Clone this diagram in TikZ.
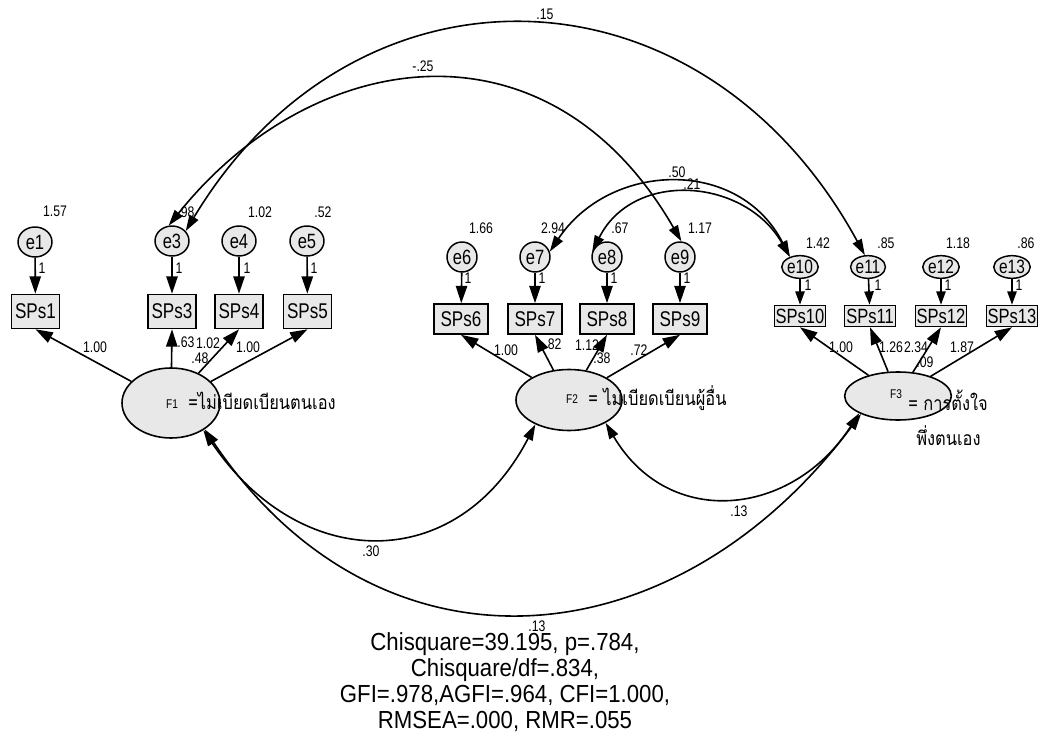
\documentclass[tikz,border=0pt]{standalone}
\usepackage{fontspec}
\setmainfont[FakeStretch=0.8]{Liberation Sans}
\newfontfamily\statfont[FakeStretch=0.9]{Liberation Sans}
\newfontfamily\thaifont[Script=Thai,FakeStretch=0.85]{Loma}
\usetikzlibrary{shapes.geometric,arrows.meta}
\newcommand{\fsz}[1]{\fontsize{#1}{#1}\selectfont}
\tikzset{
  x=0.75pt, y=-0.75pt,
  lat/.style={ellipse, draw, line width=1.2pt, fill=gray!18, inner sep=0pt},
  errA/.style={ellipse, draw, line width=1.1pt, fill=gray!18, inner sep=0pt, minimum width=25.5pt, minimum height=22.5pt, font=\fsz{15.5}},
  errB/.style={ellipse, draw, line width=1.1pt, fill=gray!18, inner sep=0pt, minimum width=22.5pt, minimum height=22.5pt, font=\fsz{15.5}},
  errC/.style={ellipse, draw, line width=1.1pt, fill=gray!18, inner sep=0pt, minimum width=17pt, minimum height=17pt, font=\fsz{14.5}},
  boxA/.style={rectangle, draw, line width=1.2pt, fill=gray!18, inner sep=0pt, minimum width=36pt, minimum height=25.5pt, font=\fsz{16}},
  boxB/.style={rectangle, draw, line width=1.2pt, fill=gray!18, inner sep=0pt, minimum width=40.5pt, minimum height=22.5pt, font=\fsz{16}},
  boxC/.style={rectangle, draw, line width=1.2pt, fill=gray!18, inner sep=0pt, minimum width=38pt, minimum height=15.75pt, font=\fsz{15.5}},
  arr/.style={-{Triangle[length=13pt,width=8.5pt]}, line width=1.2pt},
  arrC/.style={-{Triangle[length=10pt,width=7pt]}, line width=1.2pt},
  cov/.style={{Triangle[length=12pt,width=7.5pt]}-{Triangle[length=12pt,width=7.5pt]}, line width=1.2pt},
  num/.style={font=\fsz{11.5}, inner sep=0pt},
  flab/.style={font=\fsz{9.5}, inner sep=0pt},
  thai/.style={font=\thaifont\fsz{14.5}, inner sep=0pt, anchor=west},
}
\begin{document}
\begin{tikzpicture}
\useasboundingbox (0,0) rectangle (1040,742);
% latent factors
\node[lat, minimum width=73.5pt, minimum height=52.5pt] (F1) at (171,403) {};
\node[lat, minimum width=79.5pt, minimum height=45.75pt] (F2) at (569,400) {};
\node[lat, minimum width=80pt, minimum height=36pt] (F3) at (898,396) {};
% group 1
\node[errA] (e1) at (35,242) {e1};
\node[errA] (e3) at (172,241) {e3};
\node[errA] (e4) at (239,241) {e4};
\node[errA] (e5) at (307,241) {e5};
\node[boxA] (S1) at (35.5,311.5) {SPs1};
\node[boxA] (S3) at (172,311.5) {SPs3};
\node[boxA] (S4) at (239,311.5) {SPs4};
\node[boxA] (S5) at (307.5,311.5) {SPs5};
% group 2
\node[errB] (e6) at (462,257) {e6};
\node[errB] (e7) at (535,257) {e7};
\node[errB] (e8) at (607,257) {e8};
\node[errB] (e9) at (680,257) {e9};
\node[boxB] (S6) at (461,319) {SPs6};
\node[boxB] (S7) at (535,319) {SPs7};
\node[boxB] (S8) at (607,319) {SPs8};
\node[boxB] (S9) at (680,319) {SPs9};
% group 3
\node[errC] (e10) at (800,267) {e10};
\node[errC] (e11) at (868,267) {e11};
\node[errC] (e12) at (941,267) {e12};
\node[errC] (e13) at (1012,267) {e13};
\node[boxC] (S10) at (800,316) {SPs10};
\node[boxC] (S11) at (870,316) {SPs11};
\node[boxC] (S12) at (941,316) {SPs12};
\node[boxC] (S13) at (1012,316) {SPs13};
% error arrows
\foreach \e/\s in {e1/S1,e3/S3,e4/S4,e5/S5,e6/S6,e7/S7,e8/S8,e9/S9}
  \draw[arr] (\e) -- (\s);
\foreach \e/\s in {e10/S10,e11/S11,e12/S12,e13/S13}
  \draw[arrC] (\e) -- (\s);
% loadings
\foreach \s in {S1,S3,S4,S5} \draw[arr] (F1) -- (\s.south);
\foreach \s in {S6,S7,S8,S9} \draw[arr] (F2) -- (\s.south);
\foreach \s in {S10,S11,S12,S13} \draw[arr] (F3) -- (\s.south);
% covariances among errors
\draw[cov] (e3.36) .. controls +(170,-283) and +(-163,-299) .. (e11.105);
\draw[cov] (e3.102) .. controls +(143,-179) and +(-133,-231) .. (e9.85);
\draw[cov] (e7.20) .. controls +(60,-90) and +(-51,-100) .. (e10.135);
\draw[cov] (e8.160) .. controls +(41,-82) and +(-45,-79) .. (e10.135);
% covariances among factors
\draw[cov] (F1.-40) .. controls +(96,142) and +(-79,152) .. (F2.-144);
\draw[cov] (F2.-32) .. controls +(63,107) and +(-67,104) .. (F3.-156);
\draw[cov] (F1.-38) .. controls +(175,259) and +(-187,250) .. (F3.-154);
% factor labels
\node[flab] (lf1) at (172,404) {F1};
\node[thai] (tf1) at (188,401) {=ไม่เบียดเบียนตนเอง};
\node[flab] (lf2) at (572,399) {F2};
\node[thai] (tf2) at (588,398) {= ไม่เบียดเบียนผู้อื่น};
\node[flab] (lf3) at (896,394) {F3};
\node[thai] (tf3) at (908,400) {= การตั้งใจ};
\node[thai] (tf3b) at (916,436) {พึ่งตนเอง};
% variances
\node[num] at (55,211) {1.57};
\node[num] at (186,212) {.98};
\node[num] at (260,212) {1.02};
\node[num] at (323,212) {.52};
\node[num] at (481,228) {1.66};
\node[num] at (553,228) {2.94};
\node[num] at (620,228) {.67};
\node[num] at (700,228) {1.17};
\node[num] at (818,243) {1.42};
\node[num] at (886,243) {.85};
\node[num] at (958,243) {1.18};
\node[num] at (1026,243) {.86};
% ones
\foreach \x in {42,179,247,314} \node[num] at (\x,268) {1};
\foreach \x in {468,542,614,687} \node[num] at (\x,278) {1};
\foreach \x in {808,878,948,1019} \node[num] at (\x,285) {1};
% loadings labels
\node[num] at (95,347) {1.00};
\node[num] at (186,342) {.63};
\node[num] at (208,343) {1.02};
\node[num] at (200,358) {.48};
\node[num] at (248,347) {1.00};
\node[num] at (506,350) {1.00};
\node[num] at (553,344) {.82};
\node[num] at (587,345) {1.12};
\node[num] at (602,358) {.38};
\node[num] at (639,350) {.72};
\node[num] at (841,347) {1.00};
\node[num] at (891,347) {1.26};
\node[num] at (916,347) {2.34};
\node[num] at (925,362) {.09};
\node[num] at (962,347) {1.87};
% covariance labels
\node[num] at (545,14) {.15};
\node[num] at (423,66) {-.25};
\node[num] at (677,172) {.50};
\node[num] at (692,184) {.21};
\node[num] at (371,551) {.30};
\node[num] at (739,511) {.13};
\node[num] at (537,626) {.13};
% fit statistics
\node[font=\statfont\fontsize{18.5}{19.5}\selectfont, align=center, inner sep=0pt] (fit) at (505,682)
 {Chisquare=39.195, p=.784,\\Chisquare/df=.834,\\GFI=.978,AGFI=.964, CFI=1.000,\\RMSEA=.000, RMR=.055};
\end{tikzpicture}
\end{document}
